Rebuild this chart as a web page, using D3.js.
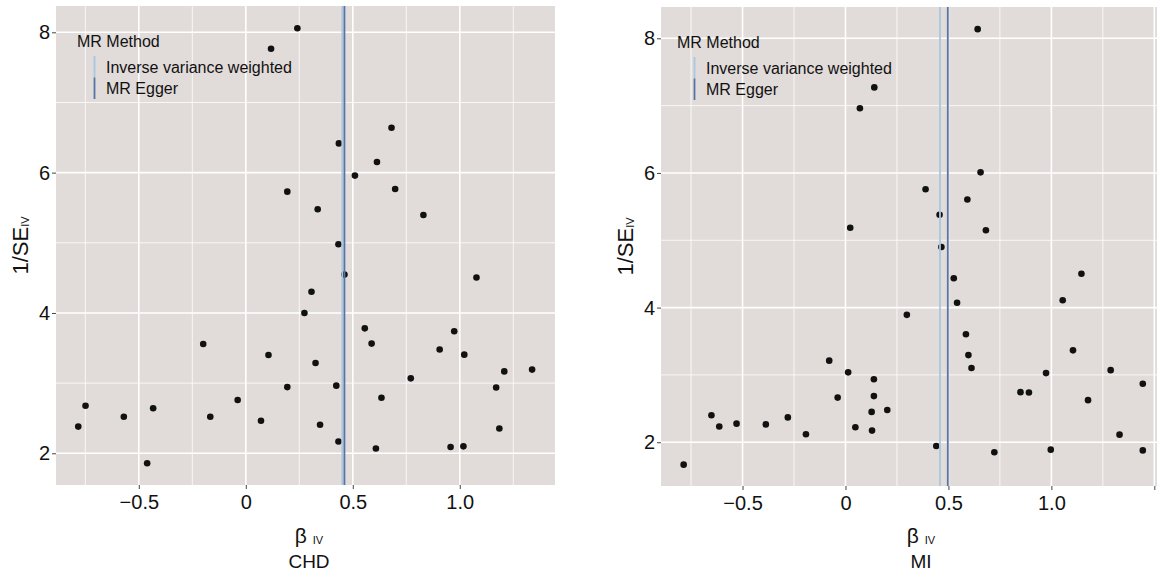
<!DOCTYPE html>
<html>
<head>
<meta charset="utf-8">
<script src="https://cdn.jsdelivr.net/npm/d3@7"></script>
<style>
    body { margin: 0; background: white; }
    svg text { font-family: "Liberation Sans", Arial, Helvetica, sans-serif; fill: #111; }
</style>
</head>
<body>
<div id="chart"></div>
<script>

// CHD panel (beta IV, 1/SE IV)
var chdBeta = [0.241, 0.118, 0.681, 0.435, 0.613, 0.510, 0.194, 0.698, 0.336, 0.830,
    0.433, 0.461, 1.078, 0.307, 0.274, 0.556, 0.974, -0.199, 0.588, 0.906,
    0.106, 1.021, 0.326, 1.338, 1.208, 0.771, 0.194, 0.423, 1.170, -0.038,
    0.634, -0.749, -0.433, -0.570, -0.166, 0.071, -0.783, 0.347, 1.185, 0.433,
    1.017, 0.957, 0.608, -0.461];
var chdInvSE = [8.057, 7.766, 6.640, 6.417, 6.151, 5.958, 5.729, 5.766, 5.479, 5.396,
    4.979, 4.547, 4.505, 4.302, 4.000, 3.781, 3.740, 3.557, 3.563, 3.479,
    3.401, 3.406, 3.286, 3.193, 3.167, 3.068, 2.943, 2.964, 2.938, 2.760,
    2.792, 2.677, 2.641, 2.521, 2.521, 2.464, 2.380, 2.406, 2.354, 2.167,
    2.099, 2.089, 2.068, 1.859];

// MI panel
var miBeta = [0.642, 0.140, 0.070, 0.656, 0.389, 0.592, 0.457, 0.023, 0.682, 0.466,
    0.526, 1.146, 0.542, 1.055, 0.298, 0.585, 0.597, 1.105, -0.079, 0.612,
    1.288, 0.013, 0.974, 0.138, 1.444, -0.038, 0.138, 0.850, 0.891, 1.178,
    0.203, 0.127, -0.651, -0.280, -0.529, -0.387, -0.613, 0.048, 0.129, -0.192,
    1.331, 0.441, 0.997, 1.444, 0.723, -0.786];
var miInvSE = [8.136, 7.271, 6.961, 6.009, 5.758, 5.606, 5.378, 5.187, 5.149, 4.899,
    4.436, 4.502, 4.072, 4.110, 3.892, 3.604, 3.294, 3.365, 3.212, 3.103,
    3.071, 3.038, 3.027, 2.935, 2.869, 2.663, 2.685, 2.744, 2.739, 2.625,
    2.478, 2.451, 2.402, 2.369, 2.276, 2.265, 2.233, 2.222, 2.173, 2.119,
    2.113, 1.945, 1.890, 1.879, 1.852, 1.667];

// MR estimates drawn as vertical lines
var methods = ["Inverse variance weighted", "MR Egger"];
var methodColors = ["#a9c7e0", "#5575a8"];
var chdEstimates = [0.451, 0.461];
var miEstimates = [0.459, 0.497];

var xTicks = [-0.5, 0, 0.5, 1.0, 1.5];
var xTickLabels = ["\u22120.5", "0", "0.5", "1.0", ""];
var xMinor = [-0.75, -0.25, 0.25, 0.75, 1.25];
var yTicks = [2, 4, 6, 8];
var yMinor = [3, 5, 7];

var W = 1159, H = 573;
var panelBg = "#e1dbd9";

var svg = d3.select("#chart").append("svg")
    .attr("width", W)
    .attr("height", H);

function drawPanel(p) {
    var x = d3.scaleLinear().domain(p.xDomain).range([p.left, p.right]);
    var y = d3.scaleLinear().domain(p.yDomain).range([p.bottom, p.top]);
    var g = svg.append("g");

    g.append("rect")
        .attr("x", p.left).attr("y", p.top)
        .attr("width", p.right - p.left).attr("height", p.bottom - p.top)
        .attr("fill", panelBg);

    var inX = function (v) { return v >= p.xDomain[0] && v <= p.xDomain[1]; };

    //minor grid
    g.selectAll("line.xminor").data(xMinor.filter(inX)).enter().append("line")
        .attr("x1", x).attr("x2", x).attr("y1", p.top).attr("y2", p.bottom)
        .attr("stroke", "white").attr("stroke-width", 0.8);
    g.selectAll("line.yminor").data(yMinor).enter().append("line")
        .attr("y1", y).attr("y2", y).attr("x1", p.left).attr("x2", p.right)
        .attr("stroke", "white").attr("stroke-width", 0.8);

    //major grid
    g.selectAll("line.xmajor").data(xTicks.filter(inX)).enter().append("line")
        .attr("x1", x).attr("x2", x).attr("y1", p.top).attr("y2", p.bottom)
        .attr("stroke", "white").attr("stroke-width", 1.6);
    g.selectAll("line.ymajor").data(yTicks).enter().append("line")
        .attr("y1", y).attr("y2", y).attr("x1", p.left).attr("x2", p.right)
        .attr("stroke", "white").attr("stroke-width", 1.6);

    // points
    g.selectAll("circle").data(p.beta).enter().append("circle")
        .attr("cx", function (d) { return x(d); })
        .attr("cy", function (d, i) { return y(p.invSE[i]); })
        .attr("r", 3.3)
        .attr("fill", "#111");

    // estimate lines
    g.selectAll("line.est").data(p.estimates).enter().append("line")
        .attr("x1", x).attr("x2", x).attr("y1", p.top).attr("y2", p.bottom)
        .attr("stroke", function (d, i) { return methodColors[i]; })
        .attr("stroke-width", 1.8);

    // axes
    var xAxis = d3.axisBottom(x)
        .tickValues(xTicks.filter(inX))
        .tickSize(4)
        .tickPadding(6)
        .tickFormat(function (d) { return xTickLabels[xTicks.indexOf(d)]; });
    var xg = g.append("g").attr("transform", "translate(0," + p.bottom + ")").call(xAxis);
    xg.select(".domain").remove();
    xg.selectAll(".tick line").attr("stroke", "#444");
    xg.selectAll(".tick text").attr("font-size", 20).attr("fill", "#111");

    var yAxis = d3.axisLeft(y)
        .tickValues(yTicks)
        .tickSize(4)
        .tickPadding(2)
        .tickFormat(d3.format("d"));
    var yg = g.append("g").attr("transform", "translate(" + p.left + ",0)").call(yAxis);
    yg.select(".domain").remove();
    yg.selectAll(".tick line").attr("stroke", "#444");
    yg.selectAll(".tick text").attr("font-size", 20).attr("fill", "#111");

    // y title
    var yt = g.append("text")
        .attr("transform", "translate(" + p.yTitleX + "," + ((p.top + p.bottom) / 2) + ") rotate(-90)")
        .attr("text-anchor", "middle")
        .attr("font-size", 22);
    yt.append("tspan").text("1/SE");
    yt.append("tspan").attr("font-size", 11).attr("dy", 1).text("IV");

    // x title
    var cx = p.titleX;
    var xt = g.append("text")
        .attr("x", cx).attr("y", 543)
        .attr("text-anchor", "middle")
        .attr("font-size", 21);
    xt.append("tspan").text("\u03b2 ");
    xt.append("tspan").attr("font-size", 11).attr("dy", 1).text("IV");

    g.append("text")
        .attr("x", cx).attr("y", 568)
        .attr("text-anchor", "middle")
        .attr("font-size", 19)
        .text(p.name);

    // legend
    var lx = p.left + p.legendDx;
    g.append("text")
        .attr("x", lx).attr("y", p.top + 40.5)
        .attr("font-size", 16)
        .text("MR Method");
    methods.forEach(function (m, i) {
        var y0 = p.top + 50 + i * 21.5;
        g.append("line")
            .attr("x1", lx + 17.5).attr("x2", lx + 17.5)
            .attr("y1", y0).attr("y2", y0 + 21.5)
            .attr("stroke", methodColors[i]).attr("stroke-width", 1.8);
        g.append("text")
            .attr("x", lx + 29).attr("y", y0 + 16.5)
            .attr("font-size", 16)
            .text(m);
    });
}

drawPanel({
    name: "CHD", beta: chdBeta, invSE: chdInvSE, estimates: chdEstimates,
    xDomain: [-0.887, 1.445], yDomain: [1.548, 8.375],
    left: 56, right: 555, top: 6, bottom: 485,
    yTitleX: 28, titleX: 309, legendDx: 21
});

drawPanel({
    name: "MI", beta: miBeta, invSE: miInvSE, estimates: miEstimates,
    xDomain: [-0.896, 1.513], yDomain: [1.35, 8.465],
    left: 661, right: 1157, top: 7, bottom: 486,
    yTitleX: 633, titleX: 921, legendDx: 16
});

</script>
</body>
</html>
